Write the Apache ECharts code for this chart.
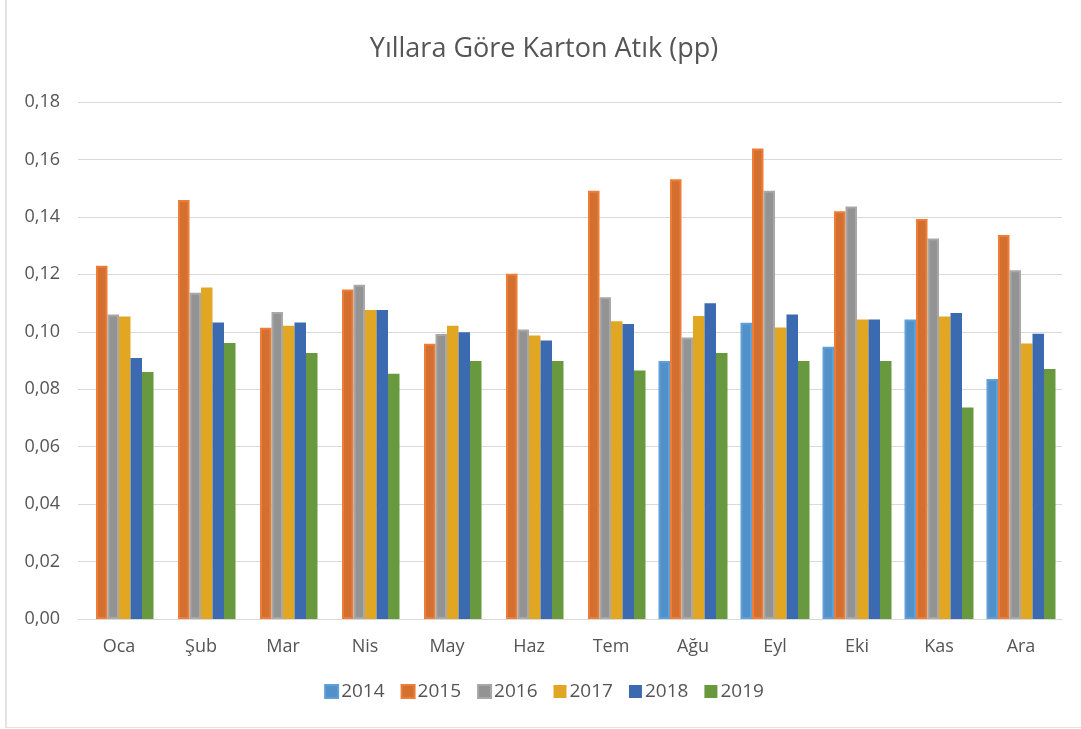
<!DOCTYPE html>
<html>
<head>
<meta charset="utf-8">
<script src="https://cdn.jsdelivr.net/npm/echarts@6/dist/echarts.min.js"></script>
<style>
  html, body { margin: 0; padding: 0; background: #fff; }
  #chart { position: absolute; left: 5px; top: 0; width: 1076px; height: 728px; border-left: 2px solid #e3e3e3; border-bottom: 1px solid #e3e3e3; box-sizing: border-box; }
</style>
</head>
<body>
<div id="chart"></div>
<script>
// months (Turkish short names)
const months = ['Oca', 'Şub', 'Mar', 'Nis', 'May', 'Haz', 'Tem', 'Ağu', 'Eyl', 'Eki', 'Kas', 'Ara'];
const years = ['2014', '2015', '2016', '2017', '2018', '2019'];

const v2014 = [null, null, null, null, null, null, null, 0.0898, 0.1031, 0.0948, 0.1043, 0.0836];
const v2015 = [0.1230, 0.1459, 0.1014, 0.1147, 0.0958, 0.1202, 0.1491, 0.1531, 0.1638, 0.1420, 0.1393, 0.1337];
const v2016 = [0.1060, 0.1136, 0.1069, 0.1164, 0.0992, 0.1008, 0.1120, 0.0980, 0.1491, 0.1436, 0.1325, 0.1214];
const v2017 = [0.1053, 0.1154, 0.1021, 0.1076, 0.1021, 0.0987, 0.1037, 0.1055, 0.1015, 0.1043, 0.1053, 0.0959];
const v2018 = [0.0909, 0.1032, 0.1032, 0.1076, 0.0998, 0.0970, 0.1027, 0.1099, 0.1060, 0.1043, 0.1065, 0.0993];
const v2019 = [0.0860, 0.0961, 0.0926, 0.0854, 0.0898, 0.0898, 0.0865, 0.0926, 0.0898, 0.0898, 0.0736, 0.0870];

const yMin = 0, yMax = 0.18, yStep = 0.02;

// fill / border per year (first three have a lighter rim like the original)
const fills   = ['#5190c9', '#d4702f', '#939393', '#e2a722', '#3c6ab0', '#68993f'];
const borders = ['#60a0d8', '#ee7d38', '#a8a8a8', '#e2a722', '#3c6ab0', '#68993f'];
const seriesData = [v2014, v2015, v2016, v2017, v2018, v2019];

let series = [];
for (let i = 0; i < years.length; i++) {
  series.push({
    name: years[i],
    type: 'bar',
    data: seriesData[i],
    barWidth: 11.5,
    barGap: '0%',
    itemStyle: {
      color: fills[i],
      borderColor: borders[i],
      borderWidth: i < 3 ? 2 : 0
    }
  });
}

const chart = echarts.init(document.getElementById('chart'));
chart.setOption({
  animation: false,
  textStyle: { fontFamily: 'Open Sans', color: '#595959' },
  title: {
    text: 'Yıllara Göre Karton Atık (pp)',
    left: 'center',
    top: 31,
    textStyle: { fontFamily: 'Open Sans', fontSize: 27, fontWeight: 'normal', color: '#555555' }
  },
  legend: {
    data: years,
    bottom: 21,
    left: 'center',
    itemWidth: 13,
    itemHeight: 13,
    itemGap: 16,
    icon: 'rect',
    textStyle: { fontSize: 19, color: '#555555', padding: [0, 0, 0, -2] }
  },
  grid: { left: 71, right: 19, top: 102, bottom: 108 },
  xAxis: {
    type: 'category',
    data: months,
    axisTick: { show: false },
    axisLine: { lineStyle: { color: '#d9d9d9' } },
    axisLabel: { fontSize: 18, color: '#555555', margin: 19 }
  },
  yAxis: {
    type: 'value',
    min: yMin,
    max: yMax,
    interval: yStep,
    axisLine: { show: false },
    axisTick: { show: false },
    splitLine: { lineStyle: { color: '#d9d9d9', width: 1 } },
    axisLabel: {
      fontSize: 18,
      color: '#555555',
      margin: 18,
      formatter: v => v.toFixed(2).replace('.', ',')
    }
  },
  series
});
</script>
</body>
</html>
